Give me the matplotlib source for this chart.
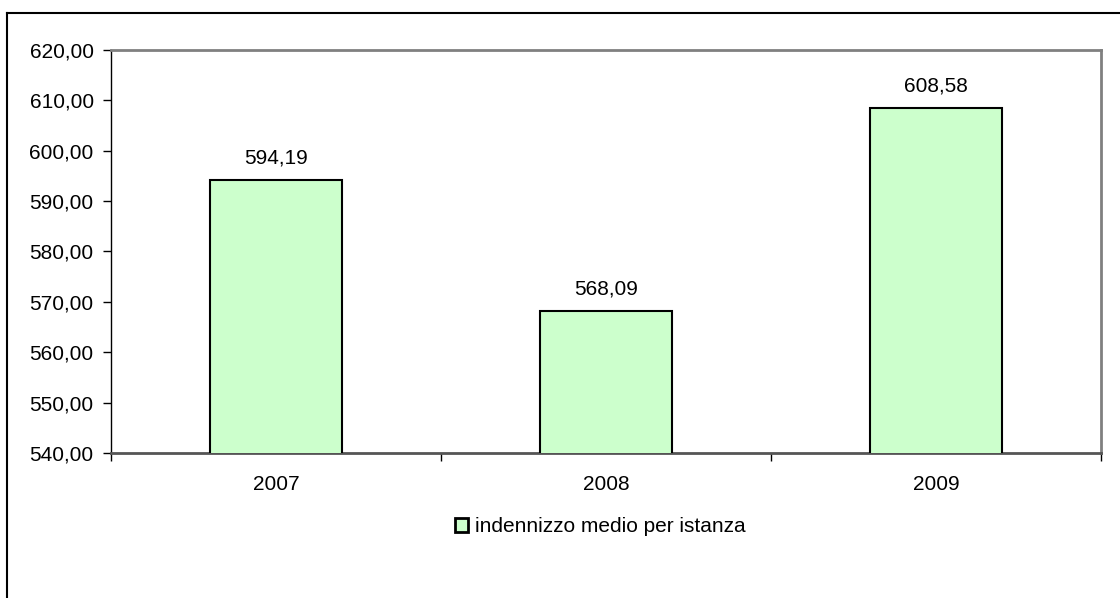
import matplotlib
matplotlib.use("Agg")
import matplotlib.pyplot as plt
from matplotlib.patches import Rectangle
from matplotlib.lines import Line2D

categories = ["2007", "2008", "2009"]
values = [594.19, 568.09, 608.58]
series_name = "indennizzo medio per istanza"
y_ticks = [540, 550, 560, 570, 580, 590, 600, 610, 620]

def fmt(v):
    return f"{v:.2f}".replace(".", ",")

plt.rcParams['font.family'] = ['Liberation Sans', 'DejaVu Sans']
FS = 15

W, H = 1120, 598
fig = plt.figure(figsize=(W / 100, H / 100), dpi=100)

# outer chart border (left and top visible)
fig.add_artist(Line2D([7 / W, 7 / W], [0, 1 - 12.5 / H], color="black", lw=1.5))
fig.add_artist(Line2D([7 / W, 1], [1 - 12.5 / H, 1 - 12.5 / H], color="black", lw=1.5))

left, right, top, bottom = 111, 1101, 50, 453
ax = fig.add_axes([left / W, 1 - bottom / H, (right - left) / W, (bottom - top) / H])

x = list(range(len(categories)))
ax.bar(x, values, width=0.4, color="#CCFFCC", edgecolor="black", linewidth=1.5,
       label=series_name, zorder=3)
ax.set_xlim(-0.5, len(categories) - 0.5)
ax.set_ylim(540, 620)
ax.set_yticks(y_ticks)
ax.set_yticklabels([fmt(t) for t in y_ticks], fontsize=FS)

ax.set_xticks([i + 0.5 for i in range(-1, len(categories))], minor=False)
ax.set_xticklabels([""] * (len(categories) + 1))
ax.set_xticks(x, minor=True)
ax.set_xticklabels(categories, minor=True, fontsize=FS)
ax.tick_params(axis="x", which="major", direction="out", length=6, width=1, color="black")
ax.tick_params(axis="x", which="minor", length=0, pad=16)
ax.tick_params(axis="y", direction="out", length=6, width=1, color="black", pad=6.5)

for s in ["top", "right"]:
    ax.spines[s].set_color("#808080")
    ax.spines[s].set_linewidth(2)
ax.spines["left"].set_color("black")
ax.spines["left"].set_linewidth(1)
ax.spines["bottom"].set_color("#555555")
ax.spines["bottom"].set_linewidth(2)

for xi, v in zip(x, values):
    ax.annotate(fmt(v), (xi, v), xytext=(0, 9), textcoords="offset points",
                ha="center", va="bottom", fontsize=FS)

handle = Rectangle((0, 0), 1, 1, facecolor="#CCFFCC", edgecolor="black", linewidth=2)
fig.legend([handle], [series_name], loc="center", bbox_to_anchor=(600 / W, 1 - 527 / H),
           frameon=False, fontsize=FS, handlelength=0.65, handleheight=0.65,
           handletextpad=0.3, borderpad=0)

fig.savefig("out.png", dpi=100)
